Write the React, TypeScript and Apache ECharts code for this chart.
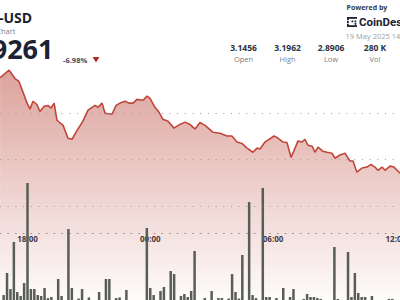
import React, { useEffect, useRef } from "react";
import * as echarts from "echarts";

// ---- data ----
const priceTimes = [
  16.66, 17.1, 17.39, 17.58, 17.98, 18.12, 18.27, 18.46, 18.61, 18.81, 19.0, 19.15, 19.3, 19.44,
  19.74, 19.98, 20.18, 20.42, 20.71, 20.96, 21.3, 21.45, 21.64, 21.79, 22.13, 22.33, 22.52, 22.77,
  22.96, 23.16, 23.35, 23.65, 23.84, 23.99, 24.23, 24.43, 24.62, 24.87, 25.16, 25.45, 25.7, 25.94,
  26.19, 26.43, 26.68, 27.07, 27.41, 27.75, 27.99, 28.24, 28.48, 28.73, 29.02, 29.22, 29.36, 29.61,
  29.75, 30.05, 30.19, 30.49, 30.68, 30.88, 31.03, 31.22, 31.42, 31.56, 31.71, 31.91, 32.05, 32.2,
  32.44, 32.64, 32.88, 33.03, 33.27, 33.52, 33.76, 33.91, 34.1, 34.35, 34.59, 34.79, 34.98, 35.13,
  35.33, 35.47, 35.72, 35.91, 36.21,
];
const prices = [
  3.177, 3.193, 3.175, 3.169, 3.122, 3.109, 3.126, 3.119, 3.104, 3.115, 3.117, 3.111, 3.122, 3.085,
  3.074, 3.046, 3.044, 3.063, 3.083, 3.107, 3.117, 3.113, 3.122, 3.1, 3.098, 3.117, 3.122, 3.126,
  3.122, 3.122, 3.13, 3.128, 3.137, 3.132, 3.113, 3.102, 3.087, 3.083, 3.068, 3.076, 3.081, 3.076,
  3.066, 3.08, 3.074, 3.059, 3.057, 3.051, 3.051, 3.038, 3.035, 3.025, 3.016, 3.025, 3.023, 3.038,
  3.042, 3.051, 3.048, 3.038, 3.037, 3.005, 3.02, 3.04, 3.038, 3.044, 3.031, 3.029, 3.016, 3.027,
  3.018, 3.016, 3.014, 3.003, 3.01, 3.014, 2.997, 2.997, 2.973, 2.982, 2.984, 2.99, 2.984, 2.977,
  2.984, 2.977, 2.986, 2.984, 2.971,
];
// 10-minute volume bars, first bar at 16:50
const volumeStartHour = 18 - 7 / 6;
const volumes = [
  3.3, 18, 7.3, 38.7, 5.3, 2.7, 11.3, 78, 7.3, 7.3, 3.3, 2.7, 8, 1.3, 2, 0, 14, 2.7, 0, 47.3, 8, 0,
  1, 7.3, 0, 1.7, 0, 0, 5.3, 0, 14, 14, 0, 1.3, 1.7, 0, 6.7, 0, 0, 0, 0, 0, 48, 8, 3.3, 0, 6, 8.7,
  0, 19.3, 17.3, 0, 2.7, 4, 2, 6, 32.7, 0, 0, 1.3, 0, 6, 0, 1.3, 1.3, 0, 1, 17.3, 5.3, 1, 30, 0,
  65.3, 3.3, 1.3, 0, 74.7, 2, 2, 0, 1.3, 0, 8, 0, 2, 7.3, 0, 0, 0.7, 4, 2, 2, 1.3, 0.7, 0, 0, 0,
  35.3, 0.7, 0, 0, 32, 2, 18, 4.7, 2, 2, 0, 2.7, 0, 0, 0, 0, 0.7, 0.7,
];
const timeTicks = [18, 24, 30, 36];
const priceGridLevels = [3.1, 3.0, 2.9];
const statValues = ["3.1456", "3.1962", "2.8906", "280 K"];
const statLabels = ["Open", "High", "Low", "Vol"];
const titleText = "-USD";
const subtitleText = "Chart";
const priceText = "9261";
const changeText = "-6.98%";
const poweredText = "Powered by";
const brandText = "CoinDesk";
const dateText = "19 May 2025 14:00 UTC";

// plot area is wider than the 400px window and is cut at the right edge
const PLOT_W = 460;
const X_MIN = 16.656;
const X_MAX = 16.656 + 460 / 20.46;
const Y_MIN = 2.6972;
const Y_MAX = 3.34445;
const FONT = "'Open Sans', 'Noto Sans', sans-serif";

function pad(n: number) {
  return (n < 10 ? "0" : "") + n;
}

export default function App() {
  const ref = useRef<HTMLDivElement>(null);
  useEffect(() => {
    const chart = echarts.init(ref.current!, null, { renderer: "svg" });
    const lineData = priceTimes.map((t, i) => [t, prices[i]]);
    const barData = volumes.map((v, i) => [volumeStartHour + i / 6, v]);
    const statX = [243.5, 287.5, 331, 375];
    const graphic: any[] = [
      { type: "text", x: -1, y: 24, style: { text: titleText, fontFamily: FONT, fontSize: 14, fontWeight: "bold", fill: "#1b2233", textAlign: "left", textVerticalAlign: "bottom" } },
      { type: "text", x: 15.5, y: 31, style: { text: subtitleText, fontFamily: FONT, fontSize: 7.5, fill: "#7a7f88", textAlign: "right", textVerticalAlign: "middle" } },
      { type: "text", x: 53.5, y: 62, style: { text: priceText, fontFamily: FONT, fontSize: 27, fontWeight: "bold", fill: "#1b2233", textAlign: "right", textVerticalAlign: "bottom" } },
      { type: "text", x: 63, y: 59.5, style: { text: changeText, fontFamily: FONT, fontSize: 7.5, fontWeight: "bold", fill: "#444a55", textAlign: "left", textVerticalAlign: "middle" } },
      { type: "polygon", shape: { points: [[92.7, 57], [99.3, 57], [96, 62.5]] }, style: { fill: "#b3261e" } },
      { type: "text", x: 346.5, y: 7.5, style: { text: poweredText, fontFamily: FONT, fontSize: 7, fontWeight: "bold", fill: "#333a45", textAlign: "left", textVerticalAlign: "middle" } },
      { type: "rect", shape: { x: 347, y: 17, width: 10, height: 1.8 }, style: { fill: "#1b2233" } },
      { type: "rect", shape: { x: 347, y: 25.2, width: 10, height: 1.8 }, style: { fill: "#1b2233" } },
      { type: "rect", shape: { x: 347, y: 17, width: 1.8, height: 3 }, style: { fill: "#1b2233" } },
      { type: "rect", shape: { x: 347, y: 20.8, width: 1.8, height: 2.4 }, style: { fill: "#1b2233" } },
      { type: "rect", shape: { x: 347, y: 24, width: 1.8, height: 3 }, style: { fill: "#1b2233" } },
      { type: "rect", shape: { x: 351.5, y: 20.5, width: 1.8, height: 1.8 }, style: { fill: "#1b2233" } },
      { type: "rect", shape: { x: 354.5, y: 20.5, width: 1.8, height: 1.8 }, style: { fill: "#1b2233" } },
      { type: "rect", shape: { x: 354.5, y: 23, width: 1.8, height: 1.8 }, style: { fill: "#1b2233" } },
      { type: "text", x: 359, y: 22, style: { text: brandText, fontFamily: "Roboto, sans-serif", fontSize: 11.5, fontWeight: "bold", fill: "#1b2233", textAlign: "left", textVerticalAlign: "middle" } },
      { type: "text", x: 345.5, y: 36, style: { text: dateText, fontFamily: FONT, fontSize: 7.5, fill: "#9a9ea6", textAlign: "left", textVerticalAlign: "middle" } },
    ];
    statValues.forEach((v, i) => {
      graphic.push({ type: "text", x: statX[i], y: 47.7, style: { text: v, fontFamily: FONT, fontSize: 8.5, fontWeight: "bold", fill: "#2b3242", textAlign: "center", textVerticalAlign: "middle" } });
      graphic.push({ type: "text", x: statX[i], y: 59, style: { text: statLabels[i], fontFamily: FONT, fontSize: 7.5, fill: "#7a7f88", textAlign: "center", textVerticalAlign: "middle" } });
    });

    chart.setOption({
      animation: false,
      backgroundColor: "#ffffff",
      grid: [
        { left: 0, width: PLOT_W, top: 0, height: 300, outerBoundsMode: "none", containLabel: false },
        { left: 0, width: PLOT_W, top: 0, height: 233.3, outerBoundsMode: "none", containLabel: false },
        { left: 0, width: PLOT_W, top: 150, height: 150, outerBoundsMode: "none", containLabel: false },
      ],
      xAxis: [
        { type: "value", gridIndex: 0, min: X_MIN, max: X_MAX, show: false },
        {
          type: "value",
          gridIndex: 1,
          min: X_MIN,
          max: X_MAX,
          axisLine: { show: true, lineStyle: { color: "#9c9c9c", width: 1, type: [1, 6.7] } },
          axisTick: { show: false },
          splitLine: { show: false },
          axisLabel: {
            customValues: timeTicks,
            formatter: (v: number) => pad(Math.round(v) % 24) + ":00",
            margin: 1,
            fontSize: 8,
            fontWeight: "bold",
            fontFamily: FONT,
            color: "#2b3242",
          },
        },
        { type: "value", gridIndex: 2, min: X_MIN, max: X_MAX, show: false },
      ],
      yAxis: [
        { type: "value", gridIndex: 0, min: Y_MIN, max: Y_MAX, show: false, splitLine: { show: false } },
        { type: "value", gridIndex: 1, min: 0, max: 1, show: false, splitLine: { show: false } },
        { type: "value", gridIndex: 2, min: 0, max: 100, show: false, splitLine: { show: false } },
      ],
      series: [
        {
          type: "line",
          xAxisIndex: 0,
          yAxisIndex: 0,
          data: lineData,
          symbol: "none",
          z: 2,
          lineStyle: { color: "#c0463a", width: 1.6 },
          areaStyle: {
            color: new echarts.graphic.LinearGradient(0, 0, 0, 1, [
              { offset: 0, color: "rgba(192, 86, 74, 0.78)" },
              { offset: 1, color: "rgba(192, 86, 74, 0.03)" },
            ]),
          },
          markLine: {
            silent: true,
            symbol: ["none", "none"],
            label: { show: false },
            lineStyle: { color: "#9c9c9c", width: 1, type: [1, 6.7] },
            data: priceGridLevels.map((v) => ({ yAxis: v })),
          },
        },
        {
          type: "bar",
          xAxisIndex: 2,
          yAxisIndex: 2,
          data: barData,
          barWidth: 2.5,
          z: 3,
          itemStyle: { color: "#585d55" },
        },
      ],
      graphic,
    });
    return () => chart.dispose();
  }, []);
  return (
    <div
      ref={ref}
      style={{ position: "fixed", left: 0, top: 0, width: 400, height: 300, overflow: "hidden" }}
    />
  );
}
